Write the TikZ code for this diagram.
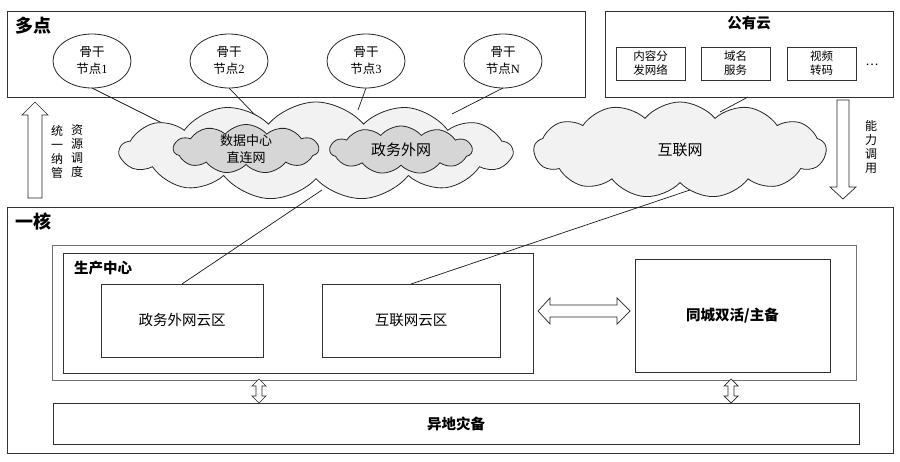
\documentclass[tikz,border=0pt]{standalone}
\usepackage{fontspec}
\setmainfont{Noto Sans CJK SC}
\newfontfamily\numfont{Liberation Serif}
\usetikzlibrary{shapes.geometric,shapes.symbols}
\begin{document}
\begin{tikzpicture}[x=1pt,y=-1pt,line width=0.8pt,
  every node/.style={inner sep=0pt,outer sep=0pt},
  frame/.style={draw=black!80},
  graybox/.style={draw=black!55},
  title/.style={font=\bfseries\fontsize{18}{18}\selectfont},
  subtitle/.style={font=\bfseries\fontsize{14.5}{14.5}\selectfont},
  bnode/.style={ellipse,draw=black!85,fill=white,minimum width=78,minimum height=54,align=center,font=\fontsize{12.5}{17}\selectfont},
  svc/.style={frame,minimum width=69,minimum height=33,align=center,font=\fontsize{11.5}{14}\selectfont},
  zone/.style={frame,font=\fontsize{14.5}{14.5}\selectfont},
  bigcloud/.style={cloud,cloud ignores aspect,draw=black!85,fill=black!5,cloud puffs=13,cloud puff arc=100},
  smallcloud/.style={cloud,cloud ignores aspect,draw=black!85,fill=black!16,cloud puffs=11,cloud puff arc=100,align=center,font=\fontsize{13}{17}\selectfont},
  hollow/.style={draw=black!85,fill=white,line width=0.7pt},
  vtext/.style={align=center,font=\fontsize{12}{13.8}\selectfont},
  link/.style={draw=black!90,line width=0.7pt}]
\useasboundingbox (0,0) rectangle (900,462);
\fill[white] (0,0) rectangle (900,462);

% ---- top-left frame: 多点
\node[frame,minimum width=578,minimum height=86,anchor=north west] (duo) at (7,11) {};
\node[title,anchor=west] (duot) at (15,26) {多点};
\node[bnode] (e1) at (92,61) {骨干\\节点{\numfont 1}};
\node[bnode] (e2) at (229,61) {骨干\\节点{\numfont 2}};
\node[bnode] (e3) at (366,61) {骨干\\节点{\numfont 3}};
\node[bnode] (eN) at (503,61) {骨干\\节点{\numfont N}};

% ---- top-right frame: 公有云
\node[frame,minimum width=288,minimum height=86,anchor=north west] (pub) at (605,11) {};
\node[subtitle] (pubt) at (749,23) {公有云};
\node[svc] (cdn) at (650.5,63.5) {内容分\\发网络};
\node[svc] (dns) at (735.5,63.5) {域名\\服务};
\node[svc] (vid) at (821.5,63.5) {视频\\转码};
\node[font=\fontsize{12}{12}\selectfont] (dots) at (872,65) {…};

% ---- core frame: 一核
\node[frame,minimum width=886,minimum height=246,anchor=north west] (core) at (7,207) {};
\node[title,anchor=west] (coret) at (15,222) {一核};
\node[graybox,minimum width=804,minimum height=135,anchor=north west] (main) at (52,245) {};
\node[frame,minimum width=470,minimum height=120,anchor=north west] (prod) at (63,253) {};
\node[subtitle,anchor=west] (prodt) at (74,268) {生产中心};
\node[zone,minimum width=162,minimum height=73] (zw) at (182,320.5) {政务外网云区};
\node[zone,minimum width=178,minimum height=73] (hl) at (411,320.5) {互联网云区};
\node[frame,minimum width=195,minimum height=113,subtitle] (tc) at (732.5,315.5) {同城双活/主备};
\node[frame,minimum width=806,minimum height=41,subtitle] (yd) at (456,423.5) {异地灾备};

% ---- connectors (drawn before clouds, which cover their inner ends)
\coordinate (c1) at (172,128);
\coordinate (c2) at (258,118);
\coordinate (c3) at (358,110);
\coordinate (c4) at (452,114);
\coordinate (c5) at (720,112);
\coordinate (c6) at (322,190);
\coordinate (c7) at (690,190);
\draw[link] (e1.south) -- (c1);
\draw[link] (e2.south) -- (c2);
\draw[link] (e3.south) -- (c3);
\draw[link] (eN.south) -- (c4);
\draw[link] (pub.south -| 748,0) -- (c5);
\draw[link] (zw.north) -- (c6);
\draw[link] (hl.north) -- (c7);

% ---- clouds
\node[bigcloud,minimum width=392,minimum height=98] (wan) at (316,151) {};
\node[smallcloud,minimum width=145,minimum height=48] (dc) at (246,149) {数据中心\\直连网};
\node[smallcloud,minimum width=142,minimum height=48,font=\fontsize{15}{15}\selectfont] (gov) at (401,150) {政务外网};
\node[bigcloud,minimum width=292,minimum height=96,font=\fontsize{15}{15}\selectfont] (inet) at (680,150) {互联网};

% ---- hollow arrows
\draw[hollow] (28,198) -- (28,115) -- (22,115) -- (35,102) -- (48,115) -- (42,115) -- (42,198) -- cycle;
\node[vtext] (lt1) at (57,152) {统\\一\\纳\\管};
\node[vtext] (lt2) at (77,151) {资\\源\\调\\度};
\draw[hollow] (837,100) -- (849,100) -- (849,187) -- (856,187) -- (843,199) -- (830,187) -- (837,187) -- cycle;
\node[vtext] (rt) at (871,147) {能\\力\\调\\用};
\draw[hollow] (538,311) -- (550,298) -- (550,305) -- (617,305) -- (617,298) -- (630,311) -- (617,324) -- (617,317) -- (550,317) -- (550,324) -- cycle;
\draw[hollow] (259,379) -- (266,386) -- (262,386) -- (262,396) -- (266,396) -- (259,403) -- (252,396) -- (256,396) -- (256,386) -- (252,386) -- cycle;
\draw[hollow] (731,379) -- (738,386) -- (734,386) -- (734,396) -- (738,396) -- (731,403) -- (724,396) -- (728,396) -- (728,386) -- (724,386) -- cycle;
\end{tikzpicture}
\end{document}
